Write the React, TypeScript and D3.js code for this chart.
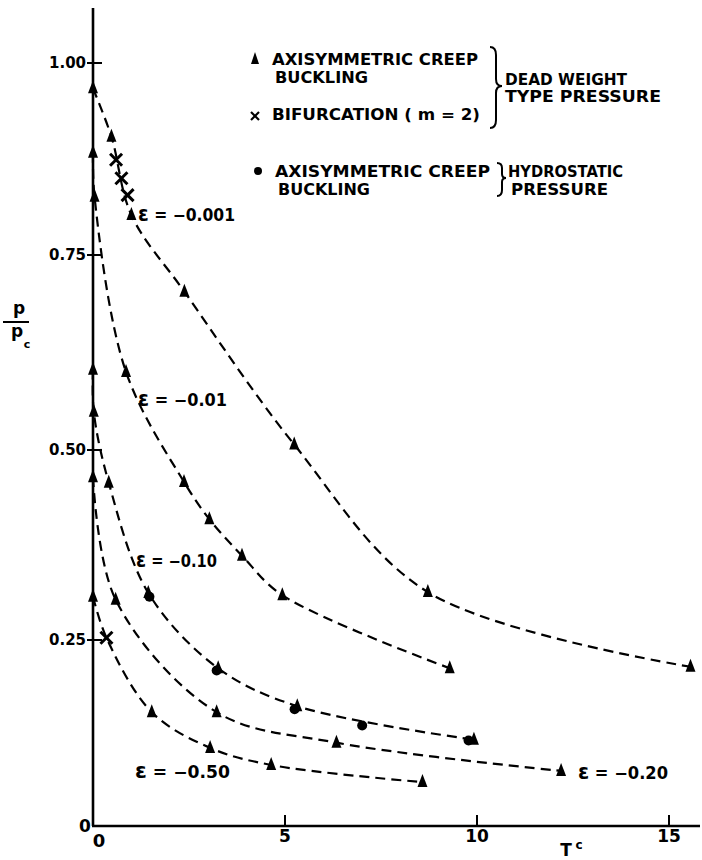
import React from 'react';
import * as d3 from 'd3';

const W = 702;
const H = 860;

const yTickValues = [0.25, 0.5, 0.75, 1.0];
const yTickLabels = ['0.25', '0.50', '0.75', '1.00'];
const xTickValues = [5, 10, 15];
const xTickLabels = ['5', '10', '15'];

// ε = -0.001 (dead weight, axisymmetric creep buckling)
const e001T = [0, 0.48, 1.0, 2.38, 5.24, 8.72, 15.56];
const e001P = [0.967, 0.904, 0.802, 0.703, 0.507, 0.313, 0.214];
// bifurcation (m = 2) on ε = -0.001
const bif001T = [0.6, 0.74, 0.9];
const bif001P = [0.874, 0.85, 0.828];
// ε = -0.01
const e01T = [0, 0.04, 0.86, 2.37, 3.03, 3.88, 4.93, 9.29];
const e01P = [0.883, 0.826, 0.6, 0.458, 0.409, 0.361, 0.309, 0.212];
// ε = -0.10
const e10T = [0, 0.02, 0.41, 1.44, 3.26, 5.32, 9.92];
const e10P = [0.603, 0.549, 0.457, 0.312, 0.212, 0.161, 0.116];
// hydrostatic pressure, axisymmetric creep buckling (ε = -0.10)
const hydroT = [1.47, 3.22, 5.25, 7.01, 9.78];
const hydroP = [0.307, 0.209, 0.157, 0.135, 0.115];
// ε = -0.20
const e20T = [0, 0.59, 3.22, 6.34, 12.19];
const e20P = [0.464, 0.303, 0.153, 0.112, 0.074];
// ε = -0.50
const e50T = [0, 1.53, 3.05, 4.64, 8.58];
const e50P = [0.307, 0.153, 0.105, 0.082, 0.059];
const bif50T = [0.35];
const bif50P = [0.253];

const curveNames = ['ε = −0.001', 'ε = −0.01', 'ε = −0.10', 'ε = −0.20', 'ε = −0.50'];

const zip = (a: number[], b: number[]) => a.map((v, i) => [v, b[i]] as [number, number]);

const FONT = "'DejaVu Sans', sans-serif";
const TRI = 'M0,-8L5,5L-5,5Z';

export default function App() {
  const x = d3.scaleLinear().domain([0, 15]).range([93, 669]);
  const y = d3.scaleLinear().domain([0, 0.25, 0.5, 0.75, 1]).range([826, 640, 450, 255, 63]);

  const line = d3
    .line<[number, number]>()
    .x((d) => x(d[0]))
    .y((d) => y(d[1]))
    .curve(d3.curveCatmullRom.alpha(0.5));

  const curves = [
    zip(e001T, e001P),
    zip(e01T, e01P),
    zip(e10T, e10P),
    zip(e20T, e20P),
    zip(e50T, e50P).concat(zip(bif50T, bif50P)).sort((a, b) => a[0] - b[0]),
  ];
  const triangles = [
    ...zip(e001T, e001P),
    ...zip(e01T, e01P),
    ...zip(e10T, e10P),
    ...zip(e20T, e20P),
    ...zip(e50T, e50P),
  ];
  const crosses = [...zip(bif001T, bif001P), ...zip(bif50T, bif50P)];
  const dots = zip(hydroT, hydroP);

  const x0 = x(0);
  const yBase = y(0);

  const epsText = (s: string) => {
    const rest = s.slice(1);
    return (
      <>
        <tspan fontSize={21}>ε</tspan>
        {rest}
      </>
    );
  };

  const labelPos = [
    { x: 138, y: 221, w: 97 },
    { x: 138, y: 406, w: 89 },
    { x: 136, y: 567, w: 81 },
    { x: 578, y: 779, w: 90 },
    { x: 135, y: 778, w: 95 },
  ];

  return (
    <svg
      width={W}
      height={H}
      style={{ position: 'absolute', left: 0, top: 0, background: '#fff' }}
      fontFamily={FONT}
      fontWeight="bold"
    >
      <rect width={W} height={H} fill="#fff" />
      {/* axes */}
      <line x1={x0} y1={8} x2={x0} y2={yBase} stroke="#000" strokeWidth={2.6} />
      <line x1={x0 - 1} y1={yBase} x2={700} y2={yBase} stroke="#000" strokeWidth={2.6} />
      {yTickValues.map((v, i) => (
        <g key={'yt' + i}>
          <line x1={x0 - 6} x2={x0 + 9} y1={y(v)} y2={y(v)} stroke="#000" strokeWidth={2} />
          <text x={x0 - 7} y={y(v) + 5} textAnchor="end" fontSize={15} textLength={37} lengthAdjust="spacingAndGlyphs">
            {yTickLabels[i]}
          </text>
        </g>
      ))}
      {xTickValues.map((v, i) => (
        <g key={'xt' + i}>
          <line x1={x(v)} x2={x(v)} y1={yBase} y2={yBase - 11} stroke="#000" strokeWidth={2} />
          <text x={x(v)} y={842} textAnchor="middle" fontSize={17}>
            {xTickLabels[i]}
          </text>
        </g>
      ))}
      <text x={85} y={832} textAnchor="middle" fontSize={17}>0</text>
      <text x={99} y={847} textAnchor="middle" fontSize={18}>0</text>

      {/* axis titles */}
      <text x={566} y={856} textAnchor="middle" fontSize={17}>T</text>
      <text x={579} y={849} textAnchor="middle" fontSize={12}>c</text>
      <text x={19} y={314} textAnchor="middle" fontSize={17}>p</text>
      <line x1={3} x2={29} y1={322} y2={322} stroke="#000" strokeWidth={2} />
      <text x={17} y={337} textAnchor="middle" fontSize={17}>p</text>
      <text x={27} y={348} textAnchor="middle" fontSize={11}>c</text>

      {/* curves */}
      {curves.map((c, i) => (
        <path
          key={'c' + i}
          d={line(c) || ''}
          fill="none"
          stroke="#000"
          strokeWidth={2.2}
          strokeDasharray="10,6"
        />
      ))}
      {triangles.map((d, i) => (
        <path key={'t' + i} d={TRI} transform={`translate(${x(d[0])},${y(d[1])})`} fill="#000" />
      ))}
      {dots.map((d, i) => (
        <circle key={'d' + i} cx={x(d[0])} cy={y(d[1])} r={5} fill="#000" />
      ))}
      {crosses.map((d, i) => (
        <g key={'x' + i} transform={`translate(${x(d[0])},${y(d[1])})`} stroke="#000" strokeWidth={3}>
          <line x1={-6} y1={-6} x2={6} y2={6} />
          <line x1={-6} y1={6} x2={6} y2={-6} />
        </g>
      ))}

      {/* curve labels */}
      {curveNames.map((s, i) => (
        <text
          key={'l' + i}
          x={labelPos[i].x}
          y={labelPos[i].y}
          fontSize={17}
          textLength={labelPos[i].w}
          lengthAdjust="spacingAndGlyphs"
        >
          {epsText(s)}
        </text>
      ))}

      {/* legend */}
      <path d="M0,-7L4,5L-4,5Z" transform="translate(255,59)" fill="#000" />
      <text x={272} y={65} fontSize={16} textLength={206} lengthAdjust="spacingAndGlyphs">AXISYMMETRIC CREEP</text>
      <text x={275} y={83} fontSize={16} textLength={93} lengthAdjust="spacingAndGlyphs">BUCKLING</text>
      <g transform="translate(255,116)" stroke="#000" strokeWidth={2.2}>
        <line x1={-4} y1={-4} x2={4} y2={4} />
        <line x1={-4} y1={4} x2={4} y2={-4} />
      </g>
      <text x={272} y={120} fontSize={16} textLength={208} lengthAdjust="spacingAndGlyphs">BIFURCATION ( m = 2)</text>
      <path
        d="M490,47 Q496,47 496,55 L496,79 Q496,86 502,86 Q496,86 496,93 L496,120 Q496,128 490,128"
        fill="none"
        stroke="#000"
        strokeWidth={2}
      />
      <text x={505} y={85} fontSize={15} textLength={122} lengthAdjust="spacingAndGlyphs">DEAD WEIGHT</text>
      <text x={505} y={102} fontSize={15} textLength={156} lengthAdjust="spacingAndGlyphs">TYPE PRESSURE</text>

      <circle cx={258} cy={171} r={4} fill="#000" />
      <text x={275} y={177} fontSize={16} textLength={215} lengthAdjust="spacingAndGlyphs">AXISYMMETRIC CREEP</text>
      <text x={278} y={195} fontSize={16} textLength={92} lengthAdjust="spacingAndGlyphs">BUCKLING</text>
      <path
        d="M497,163 Q502,163 502,168 L502,174 Q502,178 506,178 Q502,178 502,182 L502,190 Q502,196 497,196"
        fill="none"
        stroke="#000"
        strokeWidth={2}
      />
      <text x={508} y={177} fontSize={16} textLength={115} lengthAdjust="spacingAndGlyphs">HYDROSTATIC</text>
      <text x={511} y={195} fontSize={16} textLength={97} lengthAdjust="spacingAndGlyphs">PRESSURE</text>
    </svg>
  );
}
